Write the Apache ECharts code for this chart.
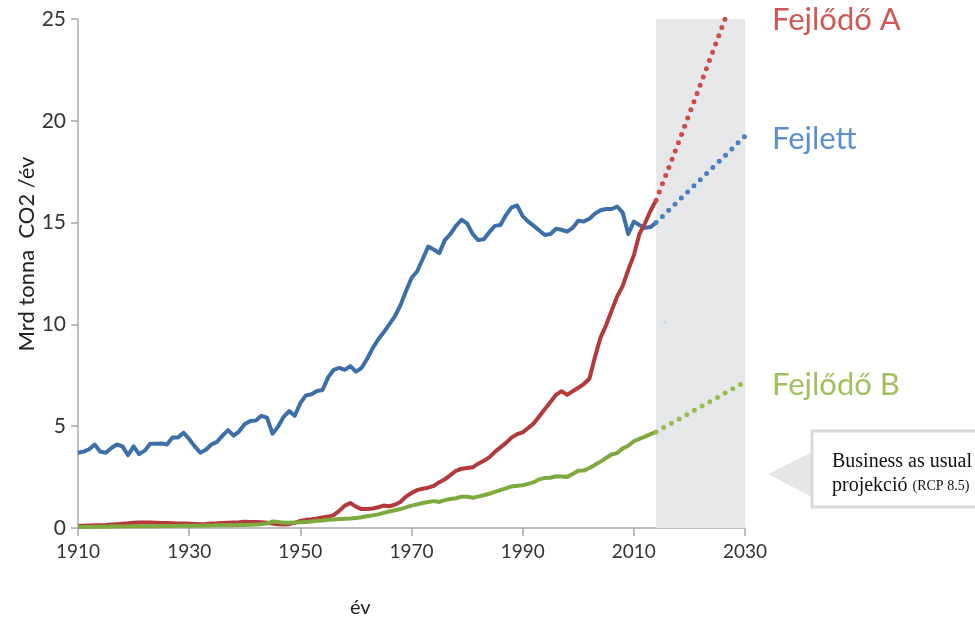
<!DOCTYPE html>
<html>
<head>
<meta charset="utf-8">
<script src="https://cdn.jsdelivr.net/npm/echarts@6/dist/echarts.min.js"></script>
<style>
  html, body { margin: 0; padding: 0; background: #fff; }
  #chart { width: 975px; height: 624px; }
</style>
</head>
<body>
<div id="chart"></div>
<script>
// yearly values 1910..2014, Mrd tonna CO2 / év
const startYear = 1910

const fejlett = [
  3.70, 3.75, 3.87, 4.10, 3.75, 3.70, 3.93, 4.10, 4.01, 3.57,
  4.01, 3.63, 3.80, 4.14, 4.14, 4.15, 4.10, 4.45, 4.45, 4.68,
  4.37, 4.01, 3.70, 3.84, 4.10, 4.23, 4.54, 4.81, 4.54, 4.75,
  5.11, 5.25, 5.28, 5.51, 5.42, 4.63, 4.98, 5.46, 5.74, 5.51,
  6.13, 6.51, 6.57, 6.73, 6.78, 7.40, 7.77, 7.86, 7.77, 7.95,
  7.68, 7.86, 8.30, 8.82, 9.26, 9.61, 10.00, 10.40, 10.93, 11.63,
  12.28, 12.60, 13.20, 13.82, 13.68, 13.50, 14.14, 14.44, 14.84, 15.14,
  14.96, 14.44, 14.14, 14.18, 14.53, 14.84, 14.88, 15.37, 15.75, 15.84,
  15.32, 15.05, 14.84, 14.61, 14.39, 14.44, 14.70, 14.65, 14.56, 14.74,
  15.09, 15.05, 15.19, 15.44, 15.61, 15.67, 15.67, 15.79, 15.49, 14.44,
  15.05, 14.88, 14.74, 14.78, 15.00
]

const fejlodoA = [
  0.10, 0.11, 0.12, 0.13, 0.14, 0.15, 0.17, 0.19, 0.21, 0.23,
  0.26, 0.27, 0.27, 0.27, 0.26, 0.25, 0.24, 0.23, 0.22, 0.22,
  0.21, 0.20, 0.19, 0.20, 0.22, 0.23, 0.25, 0.26, 0.27, 0.28,
  0.31, 0.30, 0.29, 0.28, 0.26, 0.22, 0.18, 0.17, 0.19, 0.25,
  0.35, 0.40, 0.43, 0.47, 0.52, 0.56, 0.63, 0.84, 1.10, 1.23,
  1.05, 0.93, 0.93, 0.96, 1.02, 1.10, 1.07, 1.14, 1.28, 1.54,
  1.72, 1.86, 1.93, 1.98, 2.07, 2.25, 2.39, 2.60, 2.81, 2.91,
  2.95, 2.98, 3.16, 3.30, 3.47, 3.74, 3.96, 4.18, 4.44, 4.61,
  4.70, 4.91, 5.14, 5.49, 5.84, 6.19, 6.54, 6.72, 6.54, 6.72,
  6.89, 7.07, 7.33, 8.39, 9.35, 9.96, 10.67, 11.37, 11.89, 12.68,
  13.39, 14.44, 14.96, 15.58, 16.10
]

const fejlodoB = [
  0.05, 0.05, 0.05, 0.06, 0.06, 0.06, 0.07, 0.07, 0.07, 0.08,
  0.08, 0.08, 0.09, 0.09, 0.09, 0.10, 0.10, 0.10, 0.11, 0.11,
  0.11, 0.11, 0.11, 0.12, 0.12, 0.13, 0.13, 0.14, 0.14, 0.15,
  0.15, 0.16, 0.17, 0.19, 0.22, 0.32, 0.29, 0.26, 0.26, 0.27,
  0.28, 0.30, 0.32, 0.35, 0.37, 0.40, 0.42, 0.44, 0.46, 0.47,
  0.49, 0.53, 0.58, 0.62, 0.67, 0.74, 0.81, 0.87, 0.93, 1.01,
  1.10, 1.16, 1.23, 1.28, 1.32, 1.28, 1.37, 1.42, 1.46, 1.54,
  1.54, 1.49, 1.54, 1.61, 1.68, 1.77, 1.86, 1.95, 2.04, 2.07,
  2.10, 2.17, 2.25, 2.39, 2.46, 2.47, 2.54, 2.53, 2.51, 2.65,
  2.81, 2.82, 2.95, 3.10, 3.26, 3.44, 3.61, 3.68, 3.91, 4.04,
  4.26, 4.38, 4.49, 4.61, 4.72
]

// business as usual projection (RCP 8.5)
const projYears = [2014, 2018, 2022, 2026, 2030]
const projFejlett = [15.0, 16.06, 17.12, 18.18, 19.25]
const projFejlodoA = [16.1, 18.9, 21.8, 24.7, 27.6]
const projFejlodoB = [4.72, 5.33, 5.95, 6.56, 7.18]

const projectionBand = [2014, 2030]
const strayPoint = [[2015.6, 10.1]]

const xTicks = [1910, 1930, 1950, 1970, 1990, 2010, 2030]

const toPairs = (vals) => vals.map((v, i) => [startYear + i, v])
const projPairs = (vals) => vals.map((v, i) => [projYears[i], v])

const FONT = 'Lato, "Noto Sans", sans-serif'
const BLUE = '#3c6ea7', RED = '#b3393a', GREEN = '#7ea93e'

const chart = echarts.init(document.getElementById('chart'))

function solid(name, data, color, z) {
  return {
    name, type: 'line', data: toPairs(data), showSymbol: false, z,
    lineStyle: { color, width: 4, join: 'round' }, silent: true
  }
}
function dotted(name, data, color, z) {
  return {
    name, type: 'line', data: projPairs(data), showSymbol: false, z, clip: true,
    lineStyle: { color, width: 5, type: [0, 8.8], cap: 'round' }, silent: true
  }
}

chart.setOption({
  animation: false,
  grid: { left: 78, right: 230, top: 19, bottom: 96 },
  xAxis: {
    type: 'value', min: 1910, max: 2030,
    axisLine: { lineStyle: { color: '#a8a8a8', width: 1.5 } },
    axisTick: { show: true, length: 8, customValues: xTicks, lineStyle: { color: '#a8a8a8', width: 1.5 } },
    axisLabel: {
      customValues: xTicks, margin: 14, color: '#333', fontSize: 19, fontFamily: FONT,
      formatter: (v) => String(v)
    },
    splitLine: { show: false }
  },
  yAxis: {
    type: 'value', min: 0, max: 25, interval: 5,
    axisLine: { show: true, lineStyle: { color: '#a8a8a8', width: 1.5 } },
    axisTick: { show: true, length: 7, lineStyle: { color: '#a8a8a8', width: 1.5 } },
    axisLabel: { margin: 12, color: '#333', fontSize: 21, fontFamily: FONT },
    splitLine: { show: false }
  },
  series: [
    {
      type: 'line', data: [], z: 0, silent: true,
      markArea: {
        silent: true,
        itemStyle: { color: '#e6e7e9' },
        data: [[{ xAxis: projectionBand[0] }, { xAxis: projectionBand[1] }]]
      }
    },
    solid('Fejlett', fejlett, BLUE, 3),
    dotted('Fejlett proj', projFejlett, '#4a7dc3', 3),
    solid('Fejlődő A', fejlodoA, RED, 4),
    dotted('Fejlődő A proj', projFejlodoA, '#cd4a48', 4),
    solid('Fejlődő B', fejlodoB, GREEN, 5),
    dotted('Fejlődő B proj', projFejlodoB, '#94bf4d', 5),
    {
      type: 'scatter', data: strayPoint, symbolSize: 3, z: 6, silent: true,
      itemStyle: { color: '#a3d6ea' }
    }
  ],
  graphic: [
    {
      type: 'text', x: 27, y: 254, rotation: Math.PI / 2,
      style: { text: 'Mrd tonna  CO2 /év', fill: '#222', font: '22px ' + FONT, align: 'center', verticalAlign: 'middle' }
    },
    { type: 'text', left: 350, top: 598, style: { text: 'év', fill: '#222', font: '20px ' + FONT } },
    { type: 'text', left: 772, top: 4, style: { text: 'Fejlődő A', fill: '#cf5652', font: '31px ' + FONT } },
    { type: 'text', left: 772, top: 123, style: { text: 'Fejlett', fill: '#5b8fd0', font: '31px ' + FONT } },
    { type: 'text', left: 772, top: 369, style: { text: 'Fejlődő B', fill: '#9fc05e', font: '31px ' + FONT } },
    {
      type: 'polygon', shape: { points: [[768, 474], [812, 452], [812, 497]] },
      style: { fill: '#e6e6e6' }
    },
    {
      type: 'rect', shape: { x: 812, y: 431, width: 180, height: 76 },
      style: { fill: '#fff', stroke: '#d9d9d9', lineWidth: 3 }
    },
    {
      type: 'text', left: 832, top: 450,
      style: {
        text: 'Business as usual\n{a|projekció} {b|(RCP 8.5)}',
        fill: '#111', font: '20px "Liberation Serif", serif', lineHeight: 24,
        rich: {
          a: { fontSize: 20, fontFamily: '"Liberation Serif", serif', fill: '#111', lineHeight: 24 },
          b: { fontSize: 14, fontFamily: '"Liberation Serif", serif', fill: '#111', lineHeight: 24 }
        }
      }
    }
  ]
})
</script>
</body>
</html>
